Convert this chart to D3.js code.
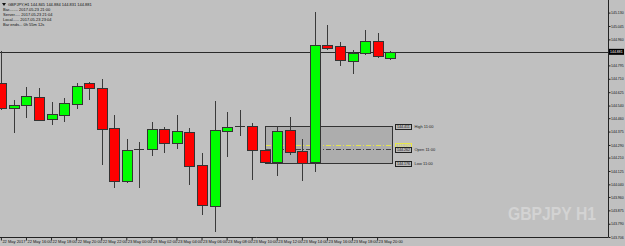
<!DOCTYPE html>
<html>
<head>
<meta charset="utf-8">
<script src="https://cdn.jsdelivr.net/npm/d3@7"></script>
<style>
  body { margin: 0; background: #c0c0c0; }
  svg { display: block; }
  text { font-family: "Liberation Sans", Arial, sans-serif; }
</style>
</head>
<body>
<div id="chart"></div>
<script>
// GBPJPY H1 bars, 22 May 14:00 .. 23 May 21:00
const opens  = [144.683,144.525,144.544,144.595,144.455,144.480,144.550,144.683,144.652,144.398,144.062,144.262,144.265,144.392,144.303,144.372,
                144.163,143.903,144.379,144.411,144.411,144.258,144.182,144.385,144.252,144.182,144.924,144.918,144.823,144.874,144.950,144.845];
const highs  = [144.886,144.576,144.658,144.652,144.563,144.588,144.683,144.690,144.709,144.480,144.328,144.309,144.436,144.404,144.480,144.398,
                144.239,144.569,144.499,144.512,144.430,144.262,144.411,144.468,144.328,145.134,145.051,144.944,144.893,145.020,145.001,144.884];
const lows   = [144.512,144.366,144.461,144.442,144.417,144.436,144.518,144.576,144.163,144.017,144.049,144.017,144.220,144.239,144.265,144.036,
                143.846,143.738,144.214,144.347,144.068,144.176,144.093,144.227,144.062,144.119,144.893,144.791,144.740,144.861,144.842,144.831];
const closes = [144.525,144.544,144.601,144.449,144.487,144.556,144.664,144.652,144.392,144.062,144.258,144.265,144.392,144.303,144.379,144.157,
                143.909,144.385,144.404,144.411,144.258,144.182,144.379,144.246,144.176,144.924,144.905,144.829,144.874,144.950,144.855,144.881];

// x-axis labels every second bar
const timeTicks  = [0,2,4,6,8,10,12,14,16,18,20,22,24,26,28,30];
const timeLabels = ["22 May 2017","22 May 16:00","22 May 18:00","22 May 20:00","22 May 22:00","23 May 00:00","23 May 02:00","23 May 04:00",
                    "23 May 06:00","23 May 08:00","23 May 10:00","23 May 12:00","23 May 14:00","23 May 16:00","23 May 18:00","23 May 20:00"];

const priceTicks = [145.130,145.045,144.960,144.795,144.710,144.625,144.540,144.460,144.375,144.290,144.210,144.125,144.040,143.960,143.875,143.790,143.706];
const bidPrice = 144.881;

// range box drawn from the 11:00 bar
const boxStart = 21, boxEnd = 31;
const boxLevels = [
  { price: 144.411, label: "High  11:00", kind: "edge" },
  { price: 144.290, label: "",            kind: "yellow" },
  { price: 144.262, label: "Open  11:00", kind: "dash" },
  { price: 144.176, label: "Low  11:00",  kind: "edge" }
];

const headerLines = [
  "GBPJPY,H1  144.845 144.884 144.831 144.881",
  "Bar........ 2017.05.23 21:00",
  "Server..... 2017.05.23 21:04",
  "Local...... 2017.05.23 23:04",
  "Bar ends... 0h 55m 12s"
];

const width = 625, height = 246;
const plotRight = 608, plotBottom = 237;

const svg = d3.select("#chart").append("svg")
  .attr("width", width)
  .attr("height", height)
  .style("background-color", "#c0c0c0");

const x = d3.scaleLinear().domain([0, 31]).range([1.4, 1.4 + 12.54 * 31]);
const y = d3.scaleLinear().domain([143.706, 145.130]).range([plotBottom, 12.6]);

const snap = v => Math.round(v) + 0.5;

const plot = svg.append("g").attr("shape-rendering", "crispEdges");

// range box
const bx0 = snap(x(boxStart)), bx1 = snap(x(boxEnd) + 2);
plot.append("rect")
  .attr("x", bx0).attr("y", snap(y(boxLevels[0].price)))
  .attr("width", bx1 - bx0)
  .attr("height", snap(y(boxLevels[3].price)) - snap(y(boxLevels[0].price)))
  .attr("fill", "#adadad")
  .attr("stroke", "#333")
  .attr("stroke-width", 1);

boxLevels.forEach(d => {
  const yy = snap(y(d.price));
  if (d.kind !== "edge") {
    plot.append("line")
      .attr("x1", bx0).attr("x2", bx1).attr("y1", yy).attr("y2", yy)
      .attr("stroke", d.kind === "yellow" ? "#e6e64a" : "#444")
      .attr("stroke-dasharray", "5,2,1,2");
  }
  plot.append("rect")
    .attr("x", bx1 + 3).attr("y", yy - 2.5)
    .attr("width", 16).attr("height", 5)
    .attr("fill", d.kind === "yellow" ? "none" : "#b8b8b8")
    .attr("stroke", d.kind === "yellow" ? "#e6e64a" : "#222");
  svg.append("text")
    .attr("x", bx1 + 4.5).attr("y", yy + 1.5)
    .attr("font-size", 3.6)
    .attr("fill", d.kind === "yellow" ? "#e6e64a" : "#111")
    .text(d3.format(".3f")(d.price));
  if (d.label) {
    svg.append("text")
      .attr("x", bx1 + 22).attr("y", yy + 1.5)
      .attr("font-size", 4)
      .attr("fill", "#222")
      .text(d.label);
  }
});

// bid line
plot.append("line")
  .attr("x1", 0).attr("x2", plotRight)
  .attr("y1", snap(y(bidPrice))).attr("y2", snap(y(bidPrice)))
  .attr("stroke", "#2a2a2a");

// candles
const bars = d3.range(opens.length);

plot.selectAll("line.wick")
  .data(bars)
  .join("line")
  .attr("class", "wick")
  .attr("x1", i => snap(x(i))).attr("x2", i => snap(x(i)))
  .attr("y1", i => y(highs[i])).attr("y2", i => y(lows[i]))
  .attr("stroke", "#3a3a3a");

bars.forEach(i => {
  const top = y(Math.max(opens[i], closes[i]));
  const bot = y(Math.min(opens[i], closes[i]));
  const cx = Math.round(x(i));
  if (bot - top < 1.5) {
    plot.append("line")
      .attr("x1", cx - 5).attr("x2", cx + 5)
      .attr("y1", snap(top)).attr("y2", snap(top))
      .attr("stroke", "#333");
  } else {
    plot.append("rect")
      .attr("x", cx - 4.5).attr("y", snap(top))
      .attr("width", 10).attr("height", Math.round(bot - top))
      .attr("fill", closes[i] >= opens[i] ? "#00ff00" : "#ff0000")
      .attr("stroke", "#333")
      .attr("stroke-width", 1);
  }
});

// watermark, squeezed horizontally to fit 88px
const wm = svg.append("text")
  .attr("font-size", 19)
  .attr("font-weight", "bold")
  .attr("fill", "#d3d3d3")
  .text("GBPJPY H1");
const wmLen = wm.node().getComputedTextLength();
wm.attr("transform", `translate(508,220) scale(${88 / wmLen},1)`);

// axes
const yAxis = d3.axisRight(y)
  .tickValues(priceTicks)
  .tickSize(2)
  .tickPadding(0.5)
  .tickFormat(d3.format(".3f"));

const yg = svg.append("g")
  .attr("transform", `translate(${plotRight + 0.5},0)`)
  .call(yAxis);
yg.select(".domain").attr("stroke", "#222").attr("d", `M0,0V${plotBottom}`);
yg.selectAll(".tick line").attr("stroke", "#222");
yg.selectAll(".tick text").attr("font-size", 3.5).attr("fill", "#111")
  .attr("font-family", "Liberation Sans, Arial, sans-serif");

const xAxis = d3.axisBottom(x)
  .tickValues(timeTicks)
  .tickSize(3)
  .tickFormat((d, k) => timeLabels[k]);

const xg = svg.append("g")
  .attr("transform", `translate(-0.5,${plotBottom + 0.5})`)
  .call(xAxis);
xg.select(".domain").attr("stroke", "#222").attr("d", `M0,0H${plotRight + 1}`);
xg.selectAll(".tick line").attr("stroke", "#222");
xg.selectAll(".tick text")
  .attr("font-size", 4).attr("fill", "#111")
  .attr("text-anchor", "start").attr("dx", 1).attr("y", 2.5).attr("dy", "0.71em")
  .attr("font-family", "Liberation Sans, Arial, sans-serif");

// current price tag
const by = y(bidPrice);
svg.append("rect")
  .attr("x", plotRight + 1).attr("y", by - 3)
  .attr("width", 15).attr("height", 6)
  .attr("fill", "#000");
svg.append("text")
  .attr("x", plotRight + 2).attr("y", by + 1.3)
  .attr("font-size", 3.5).attr("fill", "#fff")
  .text(d3.format(".3f")(bidPrice));

// header
svg.append("path")
  .attr("d", "M2,3 L6,3 L4,6 Z")
  .attr("fill", "#111");
svg.selectAll("text.header")
  .data(headerLines)
  .join("text")
  .attr("class", "header")
  .attr("x", (d, k) => k === 0 ? 8 : 3)
  .attr("y", (d, k) => 6 + k * 5)
  .attr("font-size", 4)
  .attr("fill", "#111")
  .text(d => d);
</script>
</body>
</html>
